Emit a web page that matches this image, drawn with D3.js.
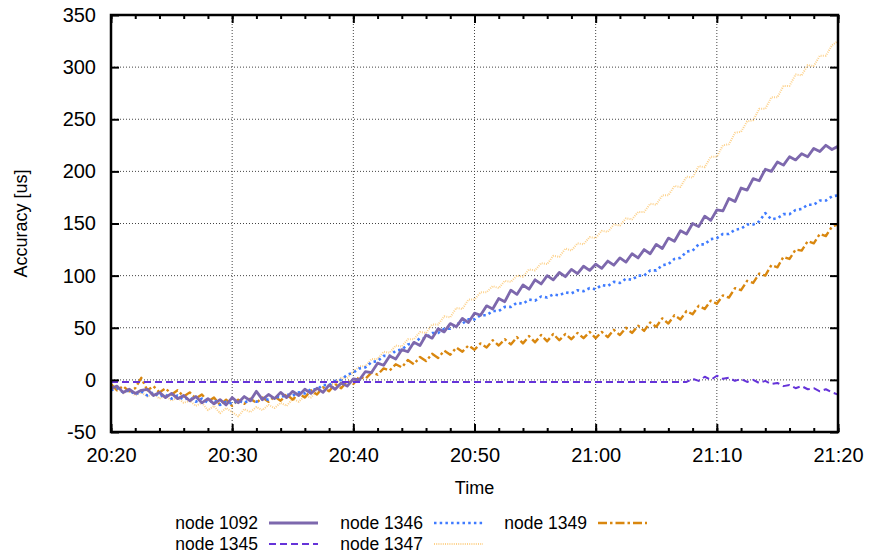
<!DOCTYPE html>
<html>
<head>
<meta charset="utf-8">
<script src="https://cdn.jsdelivr.net/npm/d3@7.9.0/dist/d3.min.js"></script>
<style>
  body { margin: 0; background: #fff; }
  svg { font-family: "Liberation Sans", Arial, Helvetica, sans-serif; }
</style>
</head>
<body>
<svg id="chart" width="870" height="560"></svg>
<script>
// samples every 30 seconds from 20:20 to 21:20
const sampleStep = 30; // seconds
const startTime = new Date(2016, 0, 1, 20, 20);
const endTime = new Date(2016, 0, 1, 21, 20);

const node1092 = [-8,-6,-12,-9,-13,-10,-9,-15,-12,-17,-13,-18,-15,-20,-16,-22,-18,-23,-19,-24,
  -17,-22,-16,-20,-11,-19,-14,-18,-12,-17,-11,-15,-9,-13,-8,-12,-5,-9,-3,-6,
  1,0,8,7,16,14,23,20,29,27,36,33,43,40,49,46,54,51,59,55,
  64,62,71,68,78,75,86,82,91,87,96,92,100,96,103,99,106,102,109,105,
  111,107,114,110,117,113,121,117,125,121,130,126,136,133,143,140,150,147,157,153,
  163,162,174,171,184,182,193,191,202,200,209,206,214,211,217,214,222,219,225,221,224];

const node1345 = [-2,-2,-2,-2,-2,-2,-2,-2,-2,-2,-2,-2,-2,-2,-2,-2,-2,-2,-2,-2,
  -2,-2,-2,-2,-2,-2,-2,-2,-2,-2,-2,-2,-2,-2,-2,-2,-2,-2,-2,-2,
  -2,-2,-2,-2,-2,-2,-2,-2,-2,-2,-2,-2,-2,-2,-2,-2,-2,-2,-2,-2,
  -2,-2,-2,-2,-2,-2,-2,-2,-2,-2,-2,-2,-2,-2,-2,-2,-2,-2,-2,-2,
  -2,-2,-2,-2,-2,-2,-2,-2,-2,-2,-2,-2,-2,-2,-2,-2,1,-1,3,0,
  4,1,2,-1,1,-2,0,-3,-1,-4,-3,-6,-5,-8,-6,-9,-8,-11,-9,-12,-14];

const node1346 = [-10,-8,-12,-10,-14,-11,-15,-12,-16,-14,-18,-15,-19,-17,-21,-18,-22,-19,-24,-21,
  -23,-20,-22,-19,-21,-18,-19,-16,-17,-14,-15,-12,-13,-9,-9,-5,-5,-1,0,5,
  7,11,12,17,18,23,23,28,29,34,35,40,40,45,45,49,49,54,54,58,
  58,62,62,66,66,70,70,74,73,77,76,80,79,82,81,84,83,86,85,88,
  87,91,90,94,93,97,96,100,100,105,105,110,111,116,117,123,124,130,130,135,
  136,140,140,144,145,149,149,152,160,154,155,159,159,163,164,168,168,172,172,176,177];

const node1347 = [-10,-7,-13,-10,-15,-12,-16,-13,-18,-15,-20,-17,-22,-20,-25,-22,-29,-25,-32,-27,
  -31,-35,-28,-31,-26,-29,-24,-27,-22,-25,-18,-21,-15,-17,-10,-11,-4,-4,2,2,
  8,13,13,20,20,27,26,33,32,39,39,46,45,53,53,61,60,69,68,77,
  77,84,84,90,88,95,94,100,99,106,105,112,111,119,118,126,124,131,130,137,
  136,143,142,149,148,155,154,161,161,169,168,177,177,186,185,195,194,205,204,214,
  214,225,226,237,238,248,249,260,260,271,271,282,282,293,292,302,301,311,311,321,325];

const node1349 = [-4,-10,-6,-11,-8,2,-10,-6,-12,-8,-14,-10,-16,-12,-18,-14,-21,-17,-24,-19,
  -25,-19,-23,-18,-22,-17,-21,-16,-20,-14,-19,-13,-17,-10,-14,-7,-11,-4,-8,-1,
  -4,3,1,7,5,11,9,15,12,19,15,22,18,25,21,28,24,31,27,33,
  29,35,31,38,33,39,34,41,35,42,36,43,37,44,38,44,39,45,40,46,
  40,46,41,48,43,50,45,52,47,55,51,59,54,62,58,66,63,71,68,76,
  73,81,79,88,86,95,93,102,100,110,108,118,116,125,124,133,131,140,138,147,149];

const seriesNames = ['node 1092', 'node 1345', 'node 1346', 'node 1347', 'node 1349'];
const seriesValues = [node1092, node1345, node1346, node1347, node1349];

const yTicks = [-50, 0, 50, 100, 150, 200, 250, 300, 350];

const styles = [
  { color: '#7d68ad', width: 2.8, dash: null },
  { color: '#6533d9', width: 2, dash: '7,4' },
  { color: '#3f7bff', width: 2.6, dash: '2.5,3.2' },
  { color: '#fdd28c', width: 2, dash: '1,1.2' },
  { color: '#d9870f', width: 2.4, dash: '9,3,2.5,3' },
];

const width = 870, height = 560;
const margin = { top: 15, right: 32, bottom: 128, left: 111 };
const innerW = width - margin.left - margin.right;
const innerH = height - margin.top - margin.bottom;

const svg = d3.select('#chart');
const g = svg.append('g').attr('transform', `translate(${margin.left},${margin.top})`);

const x = d3.scaleTime().domain([startTime, endTime]).range([0, innerW]);
const y = d3.scaleLinear().domain([-50, 350]).range([innerH, 0]);

const timeAt = (i) => d3.timeSecond.offset(startTime, i * sampleStep);

// grid
const majorTimes = d3.timeMinute.every(10).range(startTime, d3.timeMinute.offset(endTime, 1));
g.append('g')
  .selectAll('line')
  .data(majorTimes.slice(1, -1))
  .join('line')
  .attr('x1', (d) => x(d)).attr('x2', (d) => x(d))
  .attr('y1', 0).attr('y2', innerH)
  .attr('stroke', '#444').attr('stroke-width', 1).attr('stroke-dasharray', '1,2');
g.append('g')
  .selectAll('line')
  .data(yTicks.slice(1, -1))
  .join('line')
  .attr('x1', 0).attr('x2', innerW)
  .attr('y1', (d) => y(d)).attr('y2', (d) => y(d))
  .attr('stroke', '#444').attr('stroke-width', 1).attr('stroke-dasharray', '1,2');

// clip
svg.append('defs').append('clipPath').attr('id', 'clip')
  .append('rect').attr('width', innerW).attr('height', innerH);

const line = d3.line()
  .x((d, i) => x(timeAt(i)))
  .y((d) => y(d));

const plot = g.append('g').attr('clip-path', 'url(#clip)');
[3, 4, 2, 0, 1].forEach((s) => {
  plot.append('path')
    .datum(seriesValues[s])
    .attr('fill', 'none')
    .attr('stroke', styles[s].color)
    .attr('stroke-width', styles[s].width)
    .attr('stroke-dasharray', styles[s].dash)
    .attr('stroke-linejoin', 'round')
    .attr('d', line);
});

// axes (ticks inside, mirrored)
const tickFont = 20;
const textFont = 18;
const xAxis = d3.axisBottom(x).ticks(d3.timeMinute.every(10)).tickFormat(d3.timeFormat('%H:%M'))
  .tickSizeInner(-8).tickSizeOuter(0).tickPadding(16);
const xMinor = d3.axisBottom(x).ticks(d3.timeMinute.every(2)).tickFormat('').tickSizeInner(-4).tickSizeOuter(0);
const xTop = d3.axisTop(x).ticks(d3.timeMinute.every(10)).tickFormat('').tickSizeInner(-8).tickSizeOuter(0);
const xTopMinor = d3.axisTop(x).ticks(d3.timeMinute.every(2)).tickFormat('').tickSizeInner(-4).tickSizeOuter(0);
const yAxis = d3.axisLeft(y).tickValues(yTicks).tickFormat((d) => String(d))
  .tickSizeInner(-8).tickSizeOuter(0).tickPadding(15);
const yRight = d3.axisRight(y).tickValues(yTicks).tickFormat('').tickSizeInner(-8).tickSizeOuter(0);

function styleAxis(sel) {
  sel.select('.domain').remove();
  sel.selectAll('line').attr('stroke', '#000').attr('stroke-width', 2);
  sel.selectAll('text').attr('fill', '#000').style('font-size', tickFont + 'px')
    .style('font-family', '"Liberation Sans", Arial, sans-serif');
}

g.append('g').attr('transform', `translate(0,${innerH})`).call(xMinor).call(styleAxis);
g.append('g').attr('transform', `translate(0,${innerH})`).call(xAxis).call(styleAxis);
g.append('g').call(xTopMinor).call(styleAxis);
g.append('g').call(xTop).call(styleAxis);
g.append('g').call(yAxis).call(styleAxis);
g.append('g').attr('transform', `translate(${innerW},0)`).call(yRight).call(styleAxis);

// frame
g.append('rect')
  .attr('width', innerW).attr('height', innerH)
  .attr('fill', 'none').attr('stroke', '#000').attr('stroke-width', 2.5);

// axis titles
svg.append('text')
  .attr('x', margin.left + innerW / 2).attr('y', 494)
  .attr('text-anchor', 'middle').style('font-size', textFont + 'px')
  .text('Time');
svg.append('text')
  .attr('transform', `translate(27,${margin.top + innerH / 2}) rotate(-90)`)
  .attr('text-anchor', 'middle').style('font-size', textFont + 'px')
  .text('Accuracy [us]');

// legend: column-major, two rows
const legendCols = [258, 423, 587];
const legendRows = [523, 544];
seriesNames.forEach((name, i) => {
  const cx = legendCols[Math.floor(i / 2)];
  const cy = legendRows[i % 2];
  svg.append('text')
    .attr('x', cx).attr('y', cy + 6)
    .attr('text-anchor', 'end').style('font-size', '17.5px')
    .text(name);
  svg.append('line')
    .attr('x1', cx + 11).attr('x2', cx + 60)
    .attr('y1', cy).attr('y2', cy)
    .attr('stroke', styles[i].color)
    .attr('stroke-width', styles[i].width)
    .attr('stroke-dasharray', styles[i].dash);
});
</script>
</body>
</html>
